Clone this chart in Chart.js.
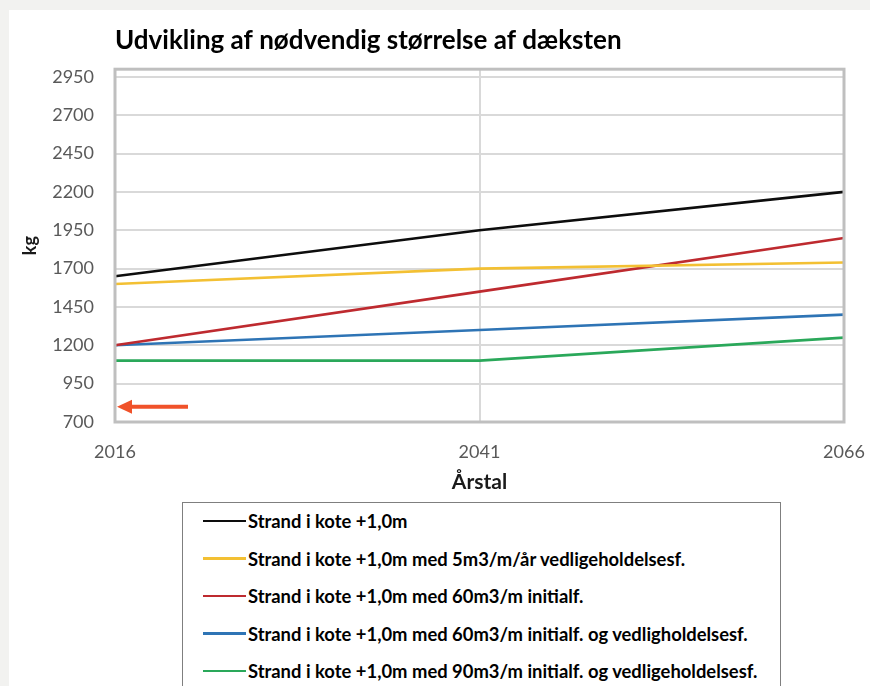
<!DOCTYPE html>
<html>
<head>
<meta charset="utf-8">
<script src="https://cdn.jsdelivr.net/npm/chart.js@4"></script>
<style>
  html, body { margin: 0; padding: 0; }
  body { width: 870px; height: 686px; background: #f2f2f0; position: relative; overflow: hidden; font-family: Lato, sans-serif; }
  #panel { position: absolute; left: 9px; top: 10px; right: 0; bottom: 0; background: #fff; }
  #wrap { position: absolute; left: 0; top: 0; width: 870px; height: 500px; }
  #legend { position: absolute; left: 182px; top: 502px; width: 597px; height: 200px; border: 1.5px solid #7f7f7f; background: #fff; }
  .row { position: absolute; left: 20px; height: 22px; display: flex; align-items: center; font-weight: bold; font-size: 18.4px; color: #000; white-space: nowrap; }
  .swatch { width: 43px; height: 2.2px; margin-right: 2px; }
</style>
</head>
<body>
<div id="panel"></div>
<div id="wrap"><canvas id="chart" width="870" height="500"></canvas></div>
<div id="legend"></div>
<script>
const years = ['2016', '2041', '2066'];
const yTicks = [700, 950, 1200, 1450, 1700, 1950, 2200, 2450, 2700, 2950];

const seriesNames = [
    'Strand i kote +1,0m',
    'Strand i kote +1,0m med 5m3/m/år vedligeholdelsesf.',
    'Strand i kote +1,0m med 60m3/m initialf.',
    'Strand i kote +1,0m med 60m3/m initialf. og vedligholdelsesf.',
    'Strand i kote +1,0m med 90m3/m initialf. og vedligeholdelsesf.'
];
const strand = [1650, 1950, 2200];
const strand5 = [1600, 1700, 1740];
const strand60 = [1200, 1550, 1900];
const strand60v = [1200, 1300, 1400];
const strand90v = [1100, 1100, 1250];
const markerValue = 800;

const lineColors = ['#0d0d0d', '#f3c033', '#be2a2f', '#2e74b5', '#2aa85a'];

// frame round the plot area + the orange marker arrow
const framePlugin = {
    id: 'frame',
    afterDatasetsDraw(chart) {
        const ctx = chart.ctx;
        const a = chart.chartArea;
        ctx.save();
        ctx.strokeStyle = '#bfbfbf';
        ctx.lineWidth = 3;
        ctx.strokeRect(a.left, a.top, a.right - a.left, a.bottom - a.top);

        const x0 = chart.scales.x.getPixelForValue(0) + 2;
        const y0 = chart.scales.y.getPixelForValue(markerValue);
        ctx.strokeStyle = '#f0522a';
        ctx.fillStyle = '#f0522a';
        ctx.lineWidth = 4;
        ctx.beginPath();
        ctx.moveTo(x0 + 12, y0);
        ctx.lineTo(x0 + 71, y0);
        ctx.stroke();
        ctx.beginPath();
        ctx.moveTo(x0, y0);
        ctx.lineTo(x0 + 15, y0 - 7);
        ctx.lineTo(x0 + 15, y0 + 7);
        ctx.closePath();
        ctx.fill();
        ctx.restore();
    }
};

const datasets = [strand, strand5, strand60, strand60v, strand90v].map(function (values, i) {
    return {
        label: seriesNames[i],
        data: values,
        borderColor: lineColors[i],
        backgroundColor: lineColors[i],
        borderWidth: 2.6,
        pointRadius: 0,
        tension: 0,
        fill: false
    };
});

const chart = new Chart(document.getElementById('chart').getContext('2d'), {
    type: 'line',
    data: { labels: years, datasets: datasets },
    plugins: [framePlugin],
    options: {
        responsive: false,
        animation: false,
        layout: { padding: { left: 0, right: 26, top: 0, bottom: 0 } },
        plugins: {
            legend: { display: false },
            tooltip: { enabled: false },
            title: {
                display: true,
                text: 'Udvikling af nødvendig størrelse af dæksten',
                align: 'start',
                fullSize: false,
                color: '#000',
                font: { family: 'Lato', size: 26, weight: 'bold', lineHeight: 1.2 },
                padding: { top: 25, bottom: 13 }
            }
        },
        scales: {
            x: {
                offset: false,
                grid: { color: '#d9d9d9', lineWidth: 2, drawTicks: false },
                border: { display: false },
                ticks: { color: '#595959', padding: 19, maxRotation: 0, font: { family: 'Lato', size: 18 } },
                title: {
                    display: true,
                    text: 'Årstal',
                    color: '#1a1a1a',
                    font: { family: 'Lato', size: 21, weight: 'bold', lineHeight: 1.2 },
                    padding: { top: 0, bottom: 5 }
                },
                afterFit(scale) {
                    scale.height = 78;
                    scale.paddingLeft = 0;
                    scale.paddingRight = 0;
                }
            },
            y: {
                min: 700,
                max: 3000,
                grid: { color: '#d9d9d9', lineWidth: 2, drawTicks: false },
                border: { display: false },
                afterBuildTicks(scale) { scale.ticks = yTicks.map(v => ({ value: v })); },
                ticks: {
                    color: '#595959', padding: 21, font: { family: 'Lato', size: 18 },
                    callback: value => String(value)
                },
                title: {
                    display: true,
                    text: 'kg',
                    color: '#1a1a1a',
                    font: { family: 'Lato', size: 18, weight: 'bold', lineHeight: 1.2 },
                    padding: { top: 19, bottom: 0 }
                },
                afterFit(scale) { scale.width = 115; }
            }
        }
    }
});

// legend box built from the chart's datasets
const legend = document.getElementById('legend');
chart.data.datasets.forEach(function (ds, i) {
    const row = document.createElement('div');
    row.className = 'row';
    row.style.top = (7 + i * 37.5) + 'px';
    const sw = document.createElement('span');
    sw.className = 'swatch';
    sw.style.background = ds.borderColor;
    const txt = document.createElement('span');
    txt.textContent = ds.label;
    row.appendChild(sw);
    row.appendChild(txt);
    legend.appendChild(row);
});
</script>
</body>
</html>
